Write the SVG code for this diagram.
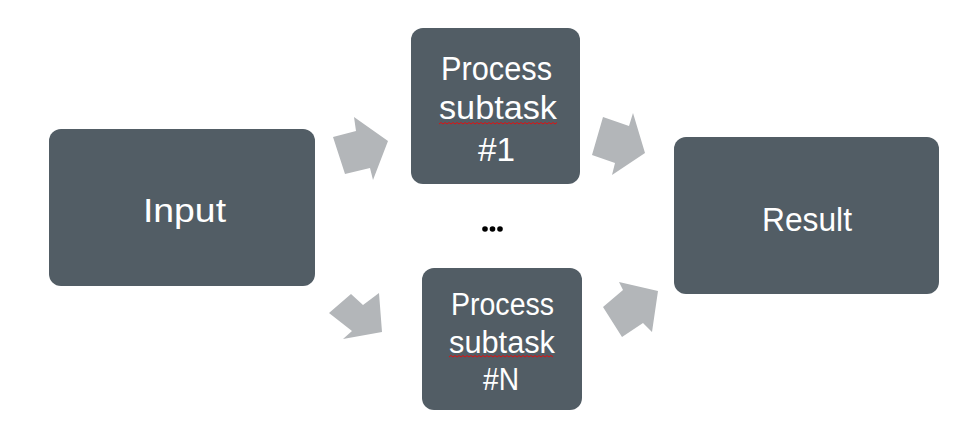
<svg xmlns="http://www.w3.org/2000/svg" width="965" height="434" viewBox="0 0 965 434">
<style>
.box{fill:#525d65}
.arr{fill:#b3b6b9}
.t{font-family:"Liberation Sans",Arial,sans-serif;fill:#ffffff;text-anchor:middle}
.sq{fill:none;stroke:#e01010;stroke-width:1}
</style>
<rect width="965" height="434" fill="#ffffff"/>
<g id="connectors">
<polygon class="arr" points="333,137 356,131 354,117 388,141 373,180 370,168 345,174"/>
<polygon class="arr" points="329,313 351,294 363,305 379,293 382,332 343,339 352,331"/>
<polygon class="arr" points="603,117 629,126 633,113 645,153 612,175 615,163 592,155"/>
<polygon class="arr" points="603,307 623,290 619,282 658,291 652,332 643,323 622,337"/>
</g>
<g id="input">
<rect class="box" x="49" y="129" width="266" height="157" rx="12"/>
<text class="t" x="184.5" y="222" font-size="34" textLength="83" lengthAdjust="spacingAndGlyphs">Input</text>
</g>
<g id="sub1">
<rect class="box" x="411" y="28" width="169" height="156" rx="12"/>
<text class="t" x="496.5" y="80" font-size="34" textLength="111" lengthAdjust="spacingAndGlyphs">Process</text>
<text class="t" x="498" y="119" font-size="34" textLength="118" lengthAdjust="spacingAndGlyphs">subtask</text>
<text class="t" x="496.5" y="161" font-size="34" textLength="37" lengthAdjust="spacingAndGlyphs">#1</text>
<path class="sq" d="M439,124 l2,-1.5 l2,1.5 l2,-1.5 l2,1.5 l2,-1.5 l2,1.5 l2,-1.5 l2,1.5 l2,-1.5 l2,1.5 l2,-1.5 l2,1.5 l2,-1.5 l2,1.5 l2,-1.5 l2,1.5 l2,-1.5 l2,1.5 l2,-1.5 l2,1.5 l2,-1.5 l2,1.5 l2,-1.5 l2,1.5 l2,-1.5 l2,1.5 l2,-1.5 l2,1.5 l2,-1.5 l2,1.5 l2,-1.5 l2,1.5 l2,-1.5 l2,1.5 l2,-1.5 l2,1.5 l2,-1.5 l2,1.5 l2,-1.5 l2,1.5 l2,-1.5 l2,1.5 l2,-1.5 l2,1.5 l2,-1.5 l2,1.5 l2,-1.5 l2,1.5 l2,-1.5 l2,1.5 l2,-1.5 l2,1.5 l2,-1.5 l2,1.5 l2,-1.5 l2,1.5 l2,-1.5 l2,1.5 l2,-1.5"/>
</g>
<g id="dots">
<circle cx="485" cy="229" r="2.8" fill="#000"/>
<circle cx="492.5" cy="229" r="2.8" fill="#000"/>
<circle cx="500" cy="229" r="2.8" fill="#000"/>
</g>
<g id="subN">
<rect class="box" x="422" y="268" width="160" height="142" rx="12"/>
<text class="t" x="502.5" y="315" font-size="31" textLength="103" lengthAdjust="spacingAndGlyphs">Process</text>
<text class="t" x="502" y="353" font-size="31" textLength="106" lengthAdjust="spacingAndGlyphs">subtask</text>
<text class="t" x="501" y="390" font-size="31" textLength="36" lengthAdjust="spacingAndGlyphs">#N</text>
<path class="sq" d="M449,357 l2,-1.5 l2,1.5 l2,-1.5 l2,1.5 l2,-1.5 l2,1.5 l2,-1.5 l2,1.5 l2,-1.5 l2,1.5 l2,-1.5 l2,1.5 l2,-1.5 l2,1.5 l2,-1.5 l2,1.5 l2,-1.5 l2,1.5 l2,-1.5 l2,1.5 l2,-1.5 l2,1.5 l2,-1.5 l2,1.5 l2,-1.5 l2,1.5 l2,-1.5 l2,1.5 l2,-1.5 l2,1.5 l2,-1.5 l2,1.5 l2,-1.5 l2,1.5 l2,-1.5 l2,1.5 l2,-1.5 l2,1.5 l2,-1.5 l2,1.5 l2,-1.5 l2,1.5 l2,-1.5 l2,1.5 l2,-1.5 l2,1.5 l2,-1.5 l2,1.5 l2,-1.5 l2,1.5 l2,-1.5 l2,1.5"/>
</g>
<g id="result">
<rect class="box" x="674" y="137" width="265" height="157" rx="12"/>
<text class="t" x="807" y="231" font-size="34" textLength="90" lengthAdjust="spacingAndGlyphs">Result</text>
</g>
</svg>
